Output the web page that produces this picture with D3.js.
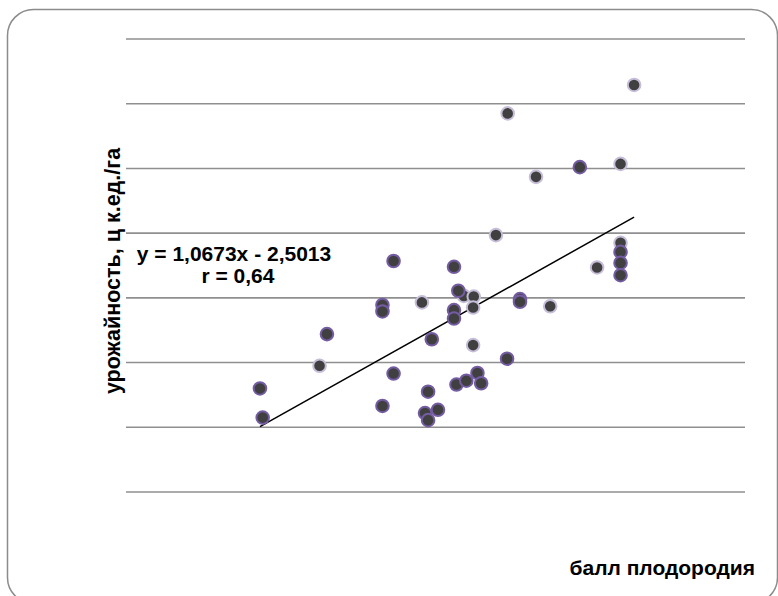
<!DOCTYPE html>
<html>
<head>
<meta charset="utf-8">
<script src="https://cdn.jsdelivr.net/npm/d3@7"></script>
<style>
  body { margin: 0; background: #fff; }
  text { font-family: "Liberation Sans", Arial, sans-serif; font-weight: bold; fill: #000; }
</style>
</head>
<body>
<div id="chart"></div>
<script>
// points with the darker purple outline
var seriesA = [
  [21.17, 26.0], [21.39, 21.5], [26.6, 34.4], [31.1, 38.9], [31.1, 37.9], [31.1, 23.3],
  [32.0, 45.7], [32.0, 28.3], [34.8, 25.5], [34.55, 22.2], [34.8, 21.1], [35.6, 22.7],
  [35.1, 33.6], [36.9, 44.8], [36.9, 38.1], [36.9, 36.8], [37.1, 26.6], [37.9, 27.2],
  [38.8, 28.4], [39.1, 26.8], [37.25, 41.1], [41.2, 30.6], [42.25, 39.8], [42.25, 39.4],
  [47.1, 60.2], [50.4, 47.1], [50.4, 45.4], [50.4, 43.5]
];
// points with the light lavender outline
var seriesB = [
  [26.0, 29.5], [34.3, 39.3], [37.7, 40.3], [38.5, 40.2], [38.45, 38.5], [38.45, 32.7],
  [40.3, 49.7], [41.25, 68.5], [43.55, 58.7], [44.7, 38.7], [50.4, 60.7], [50.4, 48.5],
  [51.5, 72.9], [48.5, 44.7]
];
var yTicks = [10, 20, 30, 40, 50, 60, 70, 80];
var slope = 1.0673, intercept = -2.5013;
var eqLabel = "y = 1,0673x - 2,5013";
var rLabel = "r = 0,64";
var xTitle = "балл плодородия";
var yTitle = "урожайность,  ц к.ед./га";

var width = 778, height = 596;
var svg = d3.select("#chart").append("svg")
  .attr("width", width)
  .attr("height", height);

// outer rounded frame
svg.append("rect")
  .attr("x", 7.5).attr("y", 9.5)
  .attr("width", 770).attr("height", 594)
  .attr("rx", 26).attr("ry", 26)
  .attr("fill", "none")
  .attr("stroke", "#8c8c8c")
  .attr("stroke-width", 1.5);

var x = d3.scaleLinear().domain([10.31, 60.49]).range([126, 745]);
var y = d3.scaleLinear().domain([10, 80]).range([492, 39]);

// horizontal gridlines
svg.append("g").selectAll("line")
  .data(yTicks)
  .enter().append("line")
  .attr("x1", x.range()[0]).attr("x2", x.range()[1])
  .attr("y1", d => y(d)).attr("y2", d => y(d))
  .attr("stroke", "#8f8f8f")
  .attr("stroke-width", 1.6);

// trend line across the data's x extent
var all = seriesA.concat(seriesB);
var xExt = d3.extent(all, d => d[0]);
svg.append("line")
  .attr("x1", x(xExt[0])).attr("y1", y(slope * xExt[0] + intercept))
  .attr("x2", x(xExt[1])).attr("y2", y(slope * xExt[1] + intercept))
  .attr("stroke", "#000")
  .attr("stroke-width", 1.5);

function drawPoints(data, stroke) {
  svg.append("g").selectAll("circle")
    .data(data)
    .enter().append("circle")
    .attr("cx", d => x(d[0]))
    .attr("cy", d => y(d[1]))
    .attr("r", 6.3)
    .attr("fill", "#404040")
    .attr("stroke", stroke)
    .attr("stroke-width", 2);
}
drawPoints(seriesB, "#c6bdd8");
drawPoints(seriesA, "#745ca3");

// equation labels
svg.append("text")
  .attr("x", 234).attr("y", 261)
  .attr("text-anchor", "middle")
  .attr("font-size", "21px")
  .text(eqLabel);
svg.append("text")
  .attr("x", 238).attr("y", 283)
  .attr("text-anchor", "middle")
  .attr("font-size", "21px")
  .text(rLabel);

// axis titles
svg.append("text")
  .attr("x", 755).attr("y", 575)
  .attr("text-anchor", "end")
  .attr("font-size", "21px")
  .text(xTitle);

svg.append("text")
  .attr("transform", "translate(120, 271) rotate(-90)")
  .attr("text-anchor", "middle")
  .attr("font-size", "21.5px")
  .text(yTitle);
</script>
</body>
</html>
